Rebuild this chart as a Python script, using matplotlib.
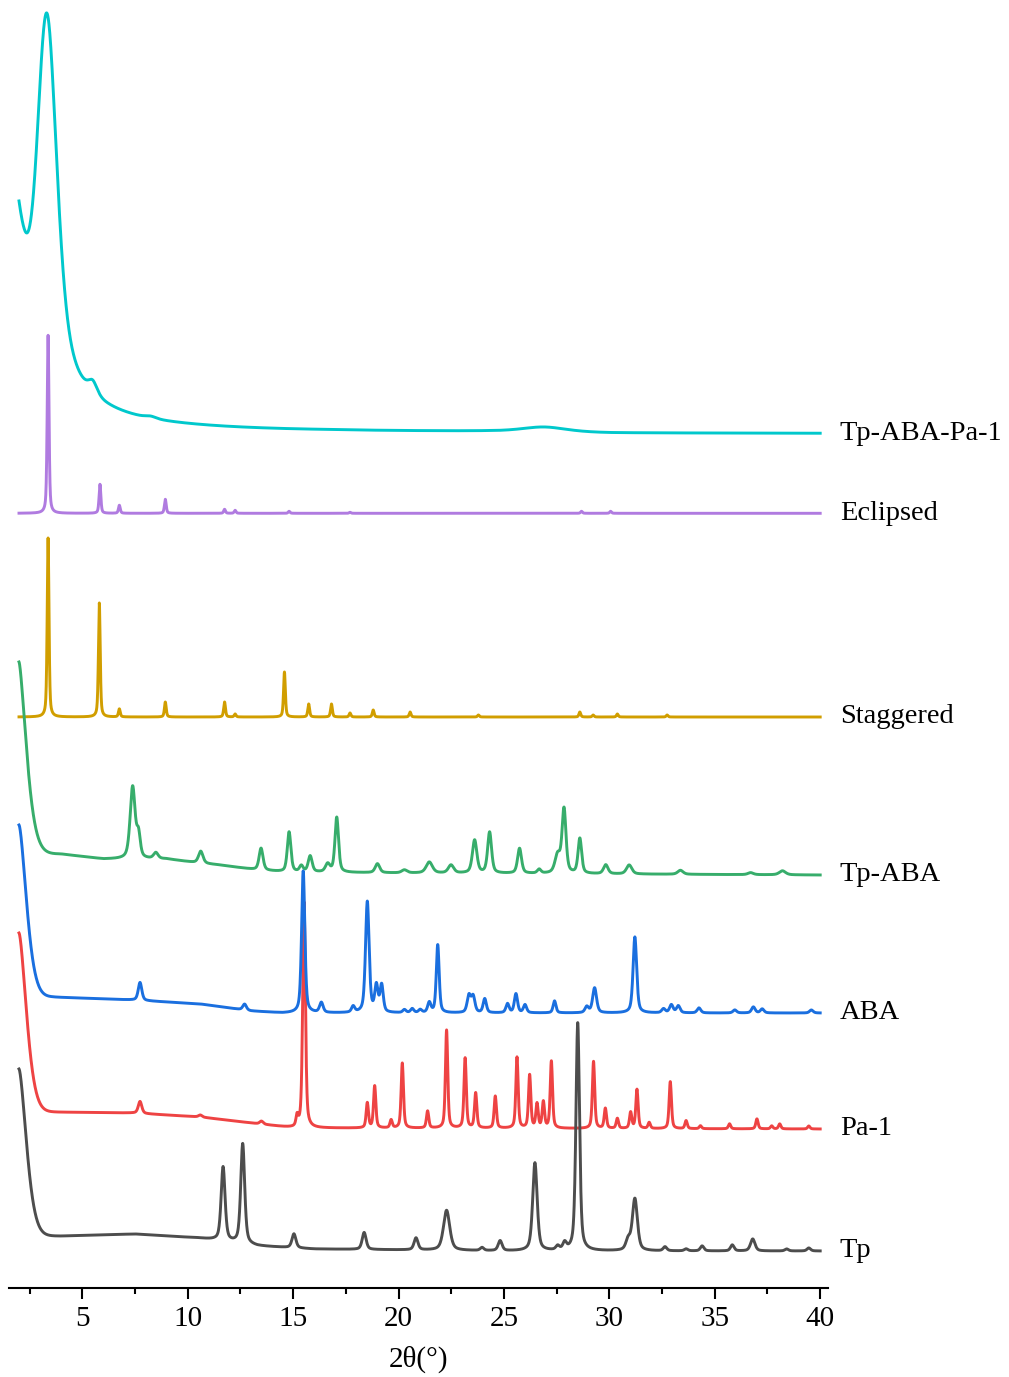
import numpy as np
import matplotlib.pyplot as plt

plt.rcParams['font.family'] = ['Liberation Serif', 'DejaVu Serif']

# intensities are in arbitrary (stacked) units
# --- Tp ---
tp_base_x = [2.0, 4.0, 7.5, 10.5, 11.3, 13.3, 16.0, 25.0, 40.0]
tp_base_y = [52, 52, 54, 50, 48, 42, 39, 37, 37]
tp_decay = [(167, 0.5, 1.6)]
tp_pos = [11.68, 12.61, 15.04, 18.37, 20.83, 22.28, 23.96, 24.82, 26.47, 27.55, 27.88,
          28.50, 30.89, 31.21, 32.64, 33.64, 34.40, 35.83, 36.80, 38.41, 39.46]
tp_hgt = [74, 100, 14, 17, 12, 40, 3, 10, 88, 4, 7, 228, 10, 52, 4, 2, 5, 6, 12, 2, 3]
tp_fwhm = [0.22, 0.22, 0.22, 0.22, 0.22, 0.35, 0.2, 0.22, 0.25, 0.2, 0.2,
           0.2, 0.25, 0.28, 0.2, 0.2, 0.2, 0.2, 0.25, 0.2, 0.2]

# --- Pa-1 ---
pa_base_x = [2.0, 3.6, 7.4, 10.6, 13.0, 15.0, 40.0]
pa_base_y = [176, 176, 175, 171, 165, 160, 159]
pa_decay = [(179, 0.5, 1.6)]
pa_pos = [7.74, 10.6, 13.5, 15.19, 15.52, 18.52, 18.87, 19.65, 20.18, 21.38, 22.28, 23.16,
          23.66, 24.59, 25.62, 26.22, 26.57, 26.87, 27.25, 29.25, 29.81, 30.38, 31.01,
          31.31, 31.89, 32.89, 33.64, 34.32, 35.7, 37.0, 37.7, 38.08, 39.46]
pa_hgt = [12, 2, 3, 10, 226, 25, 42, 8, 65, 17, 98, 70, 35, 32, 71, 53, 24, 26, 67, 67,
          20, 10, 16, 39, 6, 47, 8, 3, 5, 10, 3, 5, 3]
pa_fwhm = [0.2, 0.2, 0.2, 0.12, 0.15] + [0.13] * 28

# --- ABA ---
aba_base_x = [2.0, 3.6, 7.4, 10.6, 13.0, 14.5, 40.0]
aba_base_y = [291, 291, 288, 284, 277, 275, 275]
aba_decay = [(172, 0.5, 1.6)]
aba_pos = [7.74, 12.7, 15.48, 16.34, 17.85, 18.52, 18.95, 19.2, 20.28, 20.65, 21.03,
           21.46, 21.86, 23.34, 23.54, 24.09, 25.17, 25.57, 26.0, 27.4, 28.93, 29.3,
           31.21, 32.57, 32.94, 33.27, 34.25, 35.95, 36.83, 37.25, 39.58]
aba_hgt = [18, 6, 142, 10, 6, 111, 26, 27, 3, 4, 3, 10, 68, 17, 16, 14, 9, 19, 8, 12,
           6, 25, 76, 4, 8, 7, 5, 3, 6, 4, 3]
aba_fwhm = [0.2, 0.2, 0.18, 0.2, 0.18, 0.2, 0.18, 0.18, 0.18, 0.18, 0.18, 0.18, 0.16,
            0.2, 0.2, 0.18, 0.18, 0.18, 0.18, 0.16, 0.2, 0.22, 0.2, 0.2, 0.2, 0.2,
            0.2, 0.2, 0.2, 0.2, 0.2]

# --- Tp-ABA ---
tpaba_base_x = [2.0, 4.0, 6.0, 9.0, 10.5, 11.5, 13.3, 14.6, 20.0, 40.0]
tpaba_base_y = [434, 434, 429, 429, 425, 423, 418, 416, 415, 413]
tpaba_decay = [(192, 0.5, 1.5)]
tpaba_pos = [7.39, 7.67, 8.49, 10.62, 13.48, 14.81, 15.39, 15.81, 16.64, 17.07, 19.0,
             20.28, 21.46, 22.49, 23.61, 24.32, 25.74, 26.67, 27.55, 27.85, 28.6, 29.83,
             30.94, 33.37, 36.7, 38.21]
tpaba_hgt = [72, 22, 6, 12, 22, 40, 6, 16, 8, 55, 9, 3, 11, 8, 33, 41, 25, 4, 18, 64,
             35, 9, 9, 4, 2, 4]
tpaba_fwhm = [0.28, 0.2, 0.25, 0.25, 0.22, 0.2, 0.2, 0.22, 0.25, 0.2, 0.25, 0.3, 0.35,
              0.3, 0.25, 0.22, 0.22, 0.2, 0.3, 0.22, 0.2, 0.25, 0.3, 0.3, 0.3, 0.35]

# --- Staggered (simulated) ---
stag_base_x = [2.0, 40.0]
stag_base_y = [571, 571]
stag_pos = [3.38, 5.81, 6.76, 8.94, 11.75, 12.25, 14.59, 15.74, 16.82, 17.7, 18.8,
            20.55, 23.79, 28.6, 29.23, 30.38, 32.74]
stag_hgt = [179, 114, 8, 15, 15, 3, 45, 13, 13, 4, 7, 5, 2, 5, 2, 3, 2]
stag_fwhm = [0.1] * 17

# --- Eclipsed (simulated) ---
ecl_base_x = [2.0, 40.0]
ecl_base_y = [774.7, 774.7]
ecl_pos = [3.38, 5.84, 6.76, 8.94, 11.75, 12.25, 14.81, 17.7, 28.68, 30.06]
ecl_hgt = [178, 29, 8, 14, 4, 3, 2, 1, 2, 2]
ecl_fwhm = [0.1] * 10

# --- Tp-ABA-Pa-1 ---
mix_base_x = [2.0, 16.0, 24.0, 30.0, 40.0]
mix_base_y = [855, 856.5, 856.5, 855, 854.7]
mix_decay = [(185, 1.2, 1.0), (45, 4.5, 1.0)]
mix_main = (3.34, 325, 0.42, 0.55)  # position, height, left sigma, right half width
mix_pos = [5.5, 8.25, 26.9]
mix_hgt = [12, 2, 5]
mix_fwhm = [0.5, 0.6, 2.5]

names = ['Tp', 'Pa-1', 'ABA', 'Tp-ABA', 'Staggered', 'Eclipsed', 'Tp-ABA-Pa-1']
colors = ['#4d4d4d', '#ee4343', '#1a6fdf', '#37ad6b', '#d19e00', '#b07be0', '#00c8cc']


def pv(x, pos, h, fwhm, eta=0.5):
    u = (x - pos) / (fwhm / 2)
    return h * (eta / (1 + u**2) + (1 - eta) * np.exp(-np.log(2) * u**2))


def build(x, bx, by, decay, pos, hgt, fw):
    y = np.interp(x, bx, by)
    for a, s, p in decay:
        y = y + a * np.exp(-((x - 2.0) / s) ** p)
    for c, h, w in zip(pos, hgt, fw):
        y = y + pv(x, c, h, w)
    return y


x = np.arange(2.0, 40.0001, 0.01)

curves = {}
curves['Tp'] = build(x, tp_base_x, tp_base_y, tp_decay, tp_pos, tp_hgt, tp_fwhm)
curves['Pa-1'] = build(x, pa_base_x, pa_base_y, pa_decay, pa_pos, pa_hgt, pa_fwhm)
curves['ABA'] = build(x, aba_base_x, aba_base_y, aba_decay, aba_pos, aba_hgt, aba_fwhm)
curves['Tp-ABA'] = build(x, tpaba_base_x, tpaba_base_y, tpaba_decay, tpaba_pos, tpaba_hgt, tpaba_fwhm)
curves['Staggered'] = build(x, stag_base_x, stag_base_y, [], stag_pos, stag_hgt, stag_fwhm)
curves['Eclipsed'] = build(x, ecl_base_x, ecl_base_y, [], ecl_pos, ecl_hgt, ecl_fwhm)

mix = build(x, mix_base_x, mix_base_y, mix_decay, mix_pos, mix_hgt, mix_fwhm)
c0, h0, sl, gr = mix_main
u = (x - c0) / gr
right = h0 * (0.5 / (1 + u**2) + 0.5 * np.exp(-np.log(2) * u**2))
left = h0 * np.exp(-(x - c0)**2 / (2 * sl**2))
curves['Tp-ABA-Pa-1'] = mix + np.where(x < c0, left, right)

fig = plt.figure(figsize=(10.09, 13.77), dpi=100)
ax = fig.add_axes([9.3 / 1009, 89 / 1377, 818.7 / 1009, 1288 / 1377])

order = ['Tp-ABA-Pa-1', 'Eclipsed', 'Staggered', 'Tp-ABA', 'Pa-1', 'ABA', 'Tp']
for n in order:
    i = names.index(n)
    ax.plot(x, curves[n], color=colors[i], lw=2.1, zorder=2 + order.index(n))
    ax.text(40.93, curves[n][-1] + 3, n, fontsize=20.5, ha='left', va='center_baseline',
            clip_on=False)

ax.set_xlim(1.54, 40.37)
ax.set_ylim(0, 1288)
for s in ['left', 'right', 'top']:
    ax.spines[s].set_visible(False)
ax.spines['bottom'].set_linewidth(1.5)
ax.set_yticks([])
ax.set_xticks(np.arange(5, 41, 5))
ax.set_xticks(np.arange(2.5, 40, 5), minor=True)
ax.tick_params(axis='x', which='major', direction='out', length=8, width=1.5,
               labelsize=21, pad=5)
ax.tick_params(axis='x', which='minor', direction='out', length=4.5, width=1.5)
ax.set_xlabel('2θ(°)', fontsize=21, labelpad=10)

fig.savefig('out.png', dpi=100)
